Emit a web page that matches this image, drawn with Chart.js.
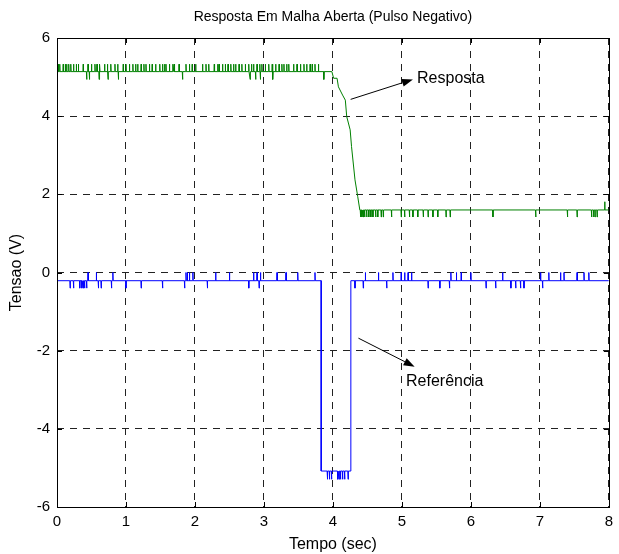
<!DOCTYPE html>
<html>
<head>
<meta charset="utf-8">
<script src="https://cdn.jsdelivr.net/npm/chart.js@4"></script>
<style>
  html, body { margin: 0; padding: 0; background: #fff; }
  #wrap { width: 619px; height: 554px; }
</style>
</head>
<body>
<div id="wrap"><canvas id="grafico" width="619" height="554"></canvas></div>
<script>
// Eixos
const xTicks = [0, 1, 2, 3, 4, 5, 6, 7, 8];
const yTicks = [-6, -4, -2, 0, 2, 4, 6];
const titulo = "Resposta Em Malha Aberta (Pulso Negativo)";

// Resposta: forma principal (tempo, tensao)
const respostaT = [0, 3.865, 3.985, 4.01, 4.06, 4.08, 4.14, 4.18, 4.20, 4.25, 4.27, 4.32, 4.36, 4.39, 8];
const respostaV = [5.14, 5.14, 5.14, 4.97, 4.97, 4.75, 4.54, 4.41, 3.99, 3.65, 3.22, 2.37, 1.94, 1.60, 1.60];

// Resposta: picos de ruido
const respostaAltoBase = 5.14;
const respostaAltoPico = 5.33;
const respostaAltoVale = 4.94;
const respostaPicosAltos = [0.0, 0.02, 0.04, 0.09, 0.12, 0.14, 0.17, 0.2, 0.24, 0.28, 0.31, 0.38, 0.45, 0.5,
  0.55, 0.58, 0.62, 0.69, 0.73, 0.78, 0.84, 0.88, 0.96, 1.0, 1.05, 1.1, 1.14, 1.17, 1.22, 1.26, 1.29,
  1.34, 1.38, 1.43, 1.49, 1.53, 1.56, 1.58, 1.63, 1.68, 1.7, 1.77, 1.87, 1.92, 1.96, 2.01, 2.11, 2.16,
  2.2, 2.28, 2.33, 2.35, 2.4, 2.44, 2.48, 2.52, 2.56, 2.59, 2.64, 2.68, 2.73, 2.78, 2.82, 2.85, 2.9,
  2.94, 2.97, 3.02, 3.07, 3.12, 3.17, 3.22, 3.26, 3.29, 3.33, 3.36, 3.43, 3.48, 3.53, 3.58, 3.62, 3.67,
  3.7, 3.74, 3.79];
const respostaValesAltos = [0.43, 0.47, 0.61, 0.74, 0.89, 1.82, 2.8, 2.88, 2.95, 3.13, 3.87];

const respostaBaixoBase = 1.60;
const respostaBaixoVale = 1.42;
const respostaBaixoPico = 1.81;
const respostaValesBaixos = [4.40, 4.42, 4.44, 4.46, 4.49, 4.52, 4.55, 4.58, 4.62, 4.65, 4.70, 4.73, 4.85,
  4.99, 5.04, 5.11, 5.16, 5.23, 5.31, 5.38, 5.45, 5.52, 5.64, 5.70, 6.32, 6.94, 7.40, 7.54, 7.75, 7.78,
  7.80, 7.83];
const respostaPicosBaixos = [7.94];

// Referencia: forma principal
const referenciaT = [0, 3.83, 3.83, 4.26, 4.26, 8];
const referenciaV = [-0.21, -0.21, -5.08, -5.08, -0.21, -0.21];

// Referencia: picos de ruido
const referenciaBase = -0.21;
const referenciaPico = 0.0;
const referenciaVale = -0.40;
const referenciaPicos = [0.45, 0.57, 0.81, 1.87, 1.89, 1.92, 1.97, 2.30, 2.50, 2.85, 2.90, 2.95, 3.19, 3.32,
  3.49, 3.74, 4.47, 4.66, 4.87, 4.99, 5.04, 5.09, 5.14, 5.71, 5.79, 5.86, 6.00, 6.46, 7.01, 7.13, 7.30,
  7.35, 7.54, 7.64, 7.71];
const referenciaVales = [0.0, 0.19, 0.24, 0.33, 0.36, 0.38, 0.40, 0.43, 0.60, 0.64, 0.79, 1.0, 1.22, 1.53,
  1.85, 2.18, 2.78, 2.93, 4.32, 4.44, 4.78, 5.38, 5.55, 5.69, 6.22, 6.36, 6.58, 6.65, 6.72, 6.77, 7.04];
const pulsoBase = -5.08;
const pulsoVale = -5.29;
const pulsoVales = [3.92, 3.95, 3.98, 4.07, 4.09, 4.11, 4.14, 4.17, 4.22];

// monta a serie: forma + picos (cada pico = amostra isolada)
function montaSerie(ts, vs, grupos) {
  const pts = ts.map((t, i) => ({ x: t, y: vs[i], o: 0 }));
  const meia = 0.004;
  grupos.forEach((g) => {
    g.tempos.forEach((t) => {
      pts.push({ x: t - meia, y: g.base, o: 1 });
      pts.push({ x: t, y: g.pico, o: 1 });
      pts.push({ x: t + meia, y: g.base, o: 1 });
    });
  });
  pts.sort((a, b) => a.x - b.x || a.o - b.o);
  return pts.map((p) => ({ x: p.x, y: p.y }));
}

const dadosResposta = montaSerie(respostaT, respostaV, [
  { base: respostaAltoBase, pico: respostaAltoPico, tempos: respostaPicosAltos },
  { base: respostaAltoBase, pico: respostaAltoVale, tempos: respostaValesAltos },
  { base: respostaBaixoBase, pico: respostaBaixoVale, tempos: respostaValesBaixos },
  { base: respostaBaixoBase, pico: respostaBaixoPico, tempos: respostaPicosBaixos },
]);

const dadosReferencia = montaSerie(referenciaT, referenciaV, [
  { base: referenciaBase, pico: referenciaPico, tempos: referenciaPicos },
  { base: referenciaBase, pico: referenciaVale, tempos: referenciaVales },
  { base: pulsoBase, pico: pulsoVale, tempos: pulsoVales },
]);

// anotacoes (texto + seta) em coordenadas dos dados
const anotacoes = [
  { texto: "Resposta", tx: 5.22, ty: 4.95, x0: 4.257, y0: 4.43, x1: 5.16, y1: 4.94 },
  { texto: "Referência", tx: 5.06, ty: -2.80, x0: 4.37, y0: -1.68, x1: 5.185, y1: -2.41 },
];

const FONTE = "'Liberation Sans', Arial, Helvetica, sans-serif";

const caixaPlugin = {
  id: "caixa",
  afterDatasetsDraw(chart) {
    const { ctx, chartArea: a, scales } = chart;
    ctx.save();
    ctx.strokeStyle = "#000";
    ctx.lineWidth = 1;
    ctx.setLineDash([]);
    ctx.strokeRect(Math.round(a.left) + 0.5, Math.round(a.top) + 0.5,
      Math.round(a.right - a.left), Math.round(a.bottom - a.top));
    const tl = 5;
    ctx.beginPath();
    xTicks.forEach((v) => {
      const px = Math.round(scales.x.getPixelForValue(v)) + 0.5;
      ctx.moveTo(px, a.bottom); ctx.lineTo(px, a.bottom - tl);
      ctx.moveTo(px, a.top); ctx.lineTo(px, a.top + tl);
    });
    yTicks.forEach((v) => {
      const py = Math.round(scales.y.getPixelForValue(v)) + 0.5;
      ctx.moveTo(a.left, py); ctx.lineTo(a.left + tl, py);
      ctx.moveTo(a.right, py); ctx.lineTo(a.right - tl, py);
    });
    ctx.stroke();

    // titulo centrado sobre a area do grafico
    ctx.fillStyle = "#000";
    ctx.font = "14px " + FONTE;
    ctx.textAlign = "center";
    ctx.textBaseline = "middle";
    ctx.fillText(titulo, (a.left + a.right) / 2, 17);

    // anotacoes
    ctx.font = "16px " + FONTE;
    ctx.textAlign = "left";
    anotacoes.forEach((n) => {
      const x0 = scales.x.getPixelForValue(n.x0), y0 = scales.y.getPixelForValue(n.y0);
      const x1 = scales.x.getPixelForValue(n.x1), y1 = scales.y.getPixelForValue(n.y1);
      const ang = Math.atan2(y1 - y0, x1 - x0);
      const L = 11, W = 4;
      const bx = x1 - L * Math.cos(ang), by = y1 - L * Math.sin(ang);
      ctx.beginPath();
      ctx.moveTo(x0, y0); ctx.lineTo(bx, by);
      ctx.stroke();
      ctx.beginPath();
      ctx.moveTo(x1, y1);
      ctx.lineTo(bx + W * Math.sin(ang), by - W * Math.cos(ang));
      ctx.lineTo(bx - W * Math.sin(ang), by + W * Math.cos(ang));
      ctx.closePath();
      ctx.fill();
      ctx.fillText(n.texto, scales.x.getPixelForValue(n.tx), scales.y.getPixelForValue(n.ty));
    });
    ctx.restore();
  },
};

Chart.defaults.font.family = FONTE;
Chart.defaults.color = "#000";

new Chart(document.getElementById("grafico").getContext("2d"), {
  type: "line",
  data: {
    datasets: [
      {
        label: "Resposta",
        data: dadosResposta,
        borderColor: "#008000",
        borderWidth: 1,
        pointRadius: 0,
        tension: 0,
        fill: false,
      },
      {
        label: "Referência",
        data: dadosReferencia,
        borderColor: "#0000ff",
        borderWidth: 1,
        pointRadius: 0,
        tension: 0,
        fill: false,
      },
    ],
  },
  options: {
    responsive: false,
    animation: false,
    events: [],
    layout: { padding: { left: 0, right: 7, top: 38, bottom: 0 } },
    plugins: {
      legend: { display: false },
      tooltip: { enabled: false },
      title: { display: false },
    },
    scales: {
      x: {
        type: "linear",
        min: 0,
        max: 8,
        afterFit: (s) => { s.height = 47; },
        afterBuildTicks: (s) => { s.ticks = xTicks.map((v) => ({ value: v })); },
        ticks: { font: { size: 15 }, padding: 6, maxRotation: 0, color: "#000" },
        grid: { color: "#222", lineWidth: 1, drawTicks: false },
        border: { display: false, dash: [7, 6] },
        title: { display: true, text: "Tempo (sec)", font: { size: 16 }, padding: { top: 0, bottom: 0 }, color: "#000" },
      },
      y: {
        type: "linear",
        min: -6,
        max: 6,
        afterFit: (s) => { s.width = 57; },
        afterBuildTicks: (s) => { s.ticks = yTicks.map((v) => ({ value: v })); },
        ticks: { font: { size: 15 }, padding: 7, color: "#000" },
        grid: { color: "#222", lineWidth: 1, drawTicks: false },
        border: { display: false, dash: [7, 6] },
        title: { display: true, text: "Tensao (V)", font: { size: 16 }, padding: { top: 7, bottom: 0 }, color: "#000" },
      },
    },
  },
  plugins: [caixaPlugin],
});
</script>
</body>
</html>
